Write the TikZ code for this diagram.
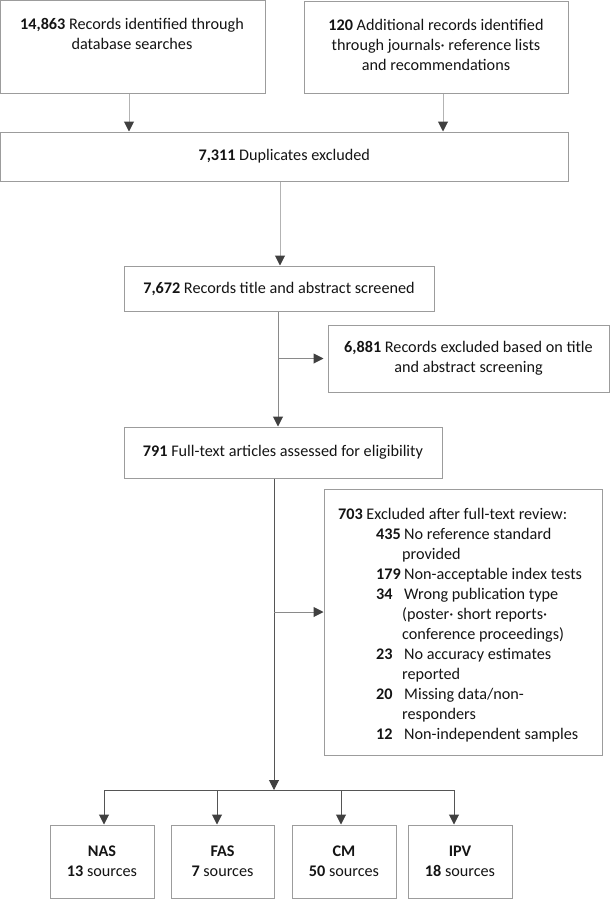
\documentclass[tikz,border=0pt]{standalone}
\usepackage{fontspec}
\setmainfont{Carlito}
\usetikzlibrary{arrows.meta}
\definecolor{boxc}{HTML}{9C9C9C}
\definecolor{linec}{HTML}{B3B3B3}
\definecolor{midl}{HTML}{8A8A8A}
\definecolor{darkl}{HTML}{555555}
\definecolor{tipc}{HTML}{404040}
\definecolor{txtc}{HTML}{141414}
\begin{document}
\begin{tikzpicture}[x=1pt,y=-1pt,
  box/.style={draw=boxc, line width=1pt, inner sep=0pt, align=center, text=txtc,
    font=\fontsize{16.2}{20}\selectfont},
  txt/.style={inner sep=0pt, text=txtc, font=\fontsize{16.2}{20}\selectfont},
  conn/.style={draw=linec, line width=1pt,
    -{Triangle[length=10pt,width=10pt,color=tipc,fill=tipc]}},
  connm/.style={draw=midl, line width=1pt,
    -{Triangle[length=10pt,width=10pt,color=tipc,fill=tipc]}},
  connd/.style={draw=darkl, line width=1pt,
    -{Triangle[length=10pt,width=10pt,color=tipc,fill=tipc]}},
  dline/.style={draw=darkl, line width=1pt}]
\useasboundingbox (0,0) rectangle (610,900);
% boxes
\node[box, minimum width=264.5pt, minimum height=92.5pt] (A) at (132.75,46.75) {};
\node[box, minimum width=264pt, minimum height=92pt] (B) at (436,47) {};
\node[box, minimum width=567.5pt, minimum height=49pt] (Dup) at (284.25,156.5) {\textbf{7,311} Duplicates excluded};
\node[box, minimum width=310pt, minimum height=45pt] (S) at (279,288.5) {\textbf{7,672} Records title and abstract screened};
\node[box, minimum width=281pt, minimum height=67pt] (E1) at (468.5,358.5) {\textbf{6,881} Records excluded based on title\\and abstract screening};
\node[box, minimum width=318pt, minimum height=51pt] (F) at (283,452.5) {\textbf{791} Full-text articles assessed for eligibility};
\node[box, minimum width=278pt, minimum height=266pt] (E2) at (463,622) {};
\node[box, minimum width=104pt, minimum height=73pt] (NAS) at (102,861.5) {\textbf{NAS}\\\textbf{13} sources};
\node[box, minimum width=103pt, minimum height=73pt] (FAS) at (222.5,861.5) {\textbf{FAS}\\\textbf{7} sources};
\node[box, minimum width=104pt, minimum height=73pt] (CM) at (344,861.5) {\textbf{CM}\\\textbf{50} sources};
\node[box, minimum width=104pt, minimum height=73pt] (IPV) at (460,861.5) {\textbf{IPV}\\\textbf{18} sources};
% texts (base anchor = baseline of last line)
\node[txt, align=center, anchor=base] (At) at (132,49) {\textbf{14,863} Records identified through\\database searches};
\node[txt, align=center, anchor=base] (Bt) at (436,70) {\textbf{120} Additional records identified\\through journals· reference lists\\and recommendations};
\node[txt, align=left, anchor=base west] (E2t) at (338,739) {\textbf{703} Excluded after full-text review:\\
\hspace*{38pt}\makebox[28pt][l]{\textbf{435}}No reference standard\\
\hspace*{64pt}provided\\
\hspace*{38pt}\makebox[28pt][l]{\textbf{179}}Non-acceptable index tests\\
\hspace*{38pt}\makebox[28pt][l]{\textbf{34}}Wrong publication type\\
\hspace*{64pt}(poster· short reports·\\
\hspace*{64pt}conference proceedings)\\
\hspace*{38pt}\makebox[28pt][l]{\textbf{23}}No accuracy estimates\\
\hspace*{64pt}reported\\
\hspace*{38pt}\makebox[28pt][l]{\textbf{20}}Missing data/non-\\
\hspace*{64pt}responders\\
\hspace*{38pt}\makebox[28pt][l]{\textbf{12}}Non-independent samples};
% connectors
\coordinate (split) at (274,790);
\coordinate (bl) at (104,790);
\coordinate (br) at (454,790);
\draw[conn] ([xshift=-3.75pt]A.south) -- ([xshift=-3.75pt]A.south |- Dup.north);
\draw[conn] ([xshift=7pt]B.south) -- ([xshift=7pt]B.south |- Dup.north);
\draw[conn] ([xshift=-4.25pt]Dup.south) -- ([xshift=-4.25pt]Dup.south |- S.north);
\draw[connm] ([xshift=-1pt]S.south) -- ([xshift=-1pt]S.south |- F.north);
\draw[connm] ([xshift=-1pt]S.south |- E1.west) -- ([xshift=-4pt]E1.west);
\draw[connd] ([xshift=-9pt]F.south) -- (split);
\draw[connm] ([yshift=10pt]E2.west -| split) -- ([yshift=10pt]E2.west);
\draw[dline] (bl) -- (br);
\draw[connd] (bl) -- (bl |- NAS.north);
\draw[connd] ([xshift=-5.5pt]FAS.north |- split) -- ([xshift=-5.5pt]FAS.north);
\draw[connd] ([xshift=-3pt]CM.north |- split) -- ([xshift=-3pt]CM.north);
\draw[connd] (br) -- (br |- IPV.north);
\end{tikzpicture}
\end{document}
